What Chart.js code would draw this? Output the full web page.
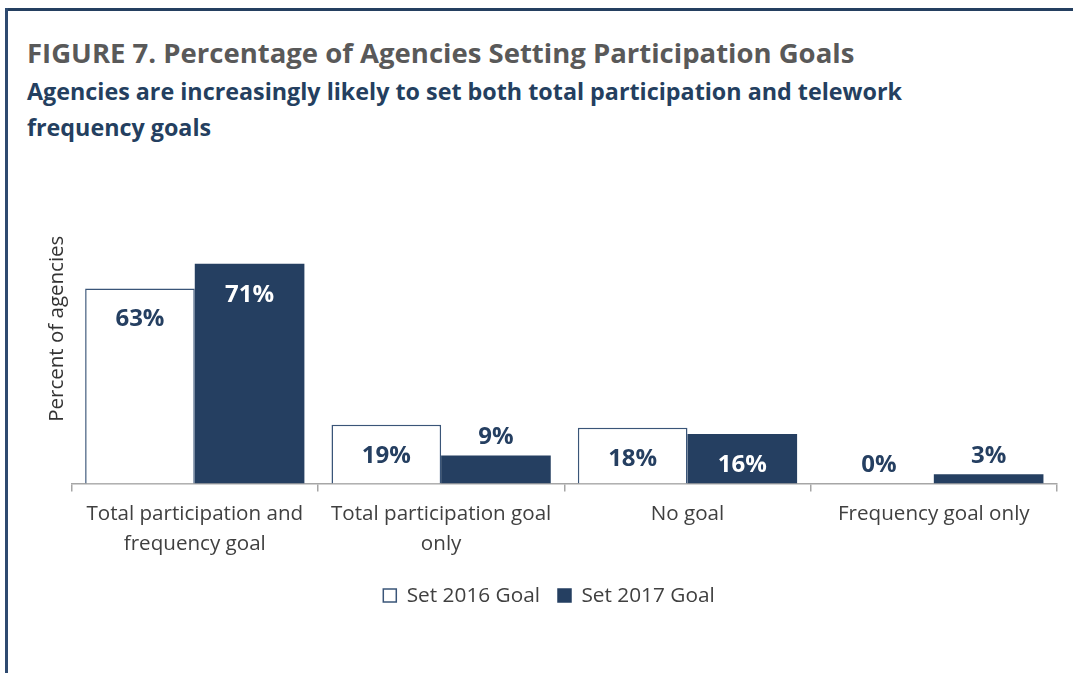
<!DOCTYPE html>
<html>
<head>
<meta charset="utf-8">
<script src="https://cdn.jsdelivr.net/npm/chart.js@4.4.1/dist/chart.umd.min.js"></script>
<style>
  html, body { margin: 0; padding: 0; background: #fff; }
  #frame { position: relative; width: 1073px; height: 673px; overflow: hidden; }
  #frame .rule-top { position: absolute; left: 5px; top: 8px; width: 1068px; height: 3px; background: #243F60; }
  #frame .rule-left { position: absolute; left: 5px; top: 8px; width: 3px; height: 665px; background: #2E4A70; }
  h1, h2 { position: absolute; left: 27px; margin: 0; font-family: "Open Sans", sans-serif; font-weight: 700; white-space: nowrap; }
  h1 { top: 34px; font-size: 27.5px; line-height: 38px; color: #595959; }
  h2 { top: 73px; font-size: 23.3px; line-height: 36px; color: #243F60; }
  canvas { position: absolute; left: 0; top: 0; }
</style>
</head>
<body>
<div id="frame">
  <div class="rule-top"></div>
  <div class="rule-left"></div>
  <h1>FIGURE 7. Percentage of Agencies Setting Participation Goals</h1>
  <h2>Agencies are increasingly likely to set both total participation and telework<br>frequency goals</h2>
  <canvas id="chart-bars" width="1073" height="673"></canvas>
</div>
<script>
const categories = [
  ['Total participation and', 'frequency goal'],
  ['Total participation goal', 'only'],
  'No goal',
  'Frequency goal only'
];
const goals2016 = [63, 19, 18, 0];
const goals2017 = [71, 9, 16, 3];

const navy = '#253F61';
const textGrey = '#404040';

// percentage labels: inside the top of tall bars, above short ones
const barLabels = {
  id: 'barLabels',
  afterDatasetsDraw(chart) {
    const c = chart.ctx;
    c.save();
    c.font = 'bold 24px "Open Sans"';
    c.textAlign = 'center';
    c.textBaseline = 'middle';
    chart.data.datasets.forEach((ds, i) => {
      chart.getDatasetMeta(i).data.forEach((bar, j) => {
        const h = bar.base - bar.y;
        let y, color;
        if (h > 45) {
          y = bar.y + 31;
          color = i === 0 ? navy : '#fff';
        } else {
          y = bar.y - 18;
          color = navy;
        }
        c.fillStyle = color;
        c.fillText(ds.data[j] + '%', bar.x, y);
      });
    });
    c.restore();
  }
};

const ctx = document.getElementById('chart-bars').getContext('2d');

new Chart(ctx, {
  type: 'bar',
  data: {
    labels: categories,
    datasets: [{
      label: 'Set 2016 Goal',
      data: goals2016,
      backgroundColor: '#fff',
      borderColor: '#3A5578',
      borderWidth: 1.5,
      borderSkipped: 'start'
    }, {
      label: 'Set 2017 Goal',
      data: goals2017,
      backgroundColor: navy,
      borderColor: navy,
      borderWidth: 0
    }]
  },
  options: {
    responsive: false,
    animation: false,
    layout: {
      padding: { left: 41, right: 16, top: 174, bottom: 57 }
    },
    datasets: {
      bar: { categoryPercentage: 0.89, barPercentage: 1.0 }
    },
    plugins: {
      legend: {
        position: 'bottom',
        labels: {
          boxWidth: 13,
          boxHeight: 13,
          padding: 18,
          color: textGrey,
          font: { size: 20.8, family: 'Open Sans' },
          generateLabels(chart) {
            return chart.data.datasets.map((ds, i) => ({
              text: ds.label,
              fillStyle: ds.backgroundColor,
              strokeStyle: i === 0 ? '#3A5578' : navy,
              lineWidth: 1.5,
              fontColor: textGrey,
              datasetIndex: i
            }));
          }
        }
      },
      tooltip: { enabled: false }
    },
    scales: {
      y: {
        min: 0,
        max: 100,
        grid: { display: false },
        border: { display: false },
        ticks: { display: false },
        title: {
          display: true,
          text: 'Percent of agencies',
          color: '#333',
          font: { size: 20.5, family: 'Open Sans' },
          padding: { top: 4, bottom: -6 }
        }
      },
      x: {
        grid: {
          drawOnChartArea: false,
          drawTicks: true,
          tickLength: 8,
          color: '#A6A6A6',
          lineWidth: 1.5
        },
        border: { display: true, color: '#A6A6A6', width: 1.5 },
        ticks: {
          padding: 8,
          maxRotation: 0,
          color: textGrey,
          font: { size: 20.6, family: 'Open Sans', lineHeight: 1.45 }
        }
      }
    }
  },
  plugins: [barLabels]
});
</script>
</body>
</html>
